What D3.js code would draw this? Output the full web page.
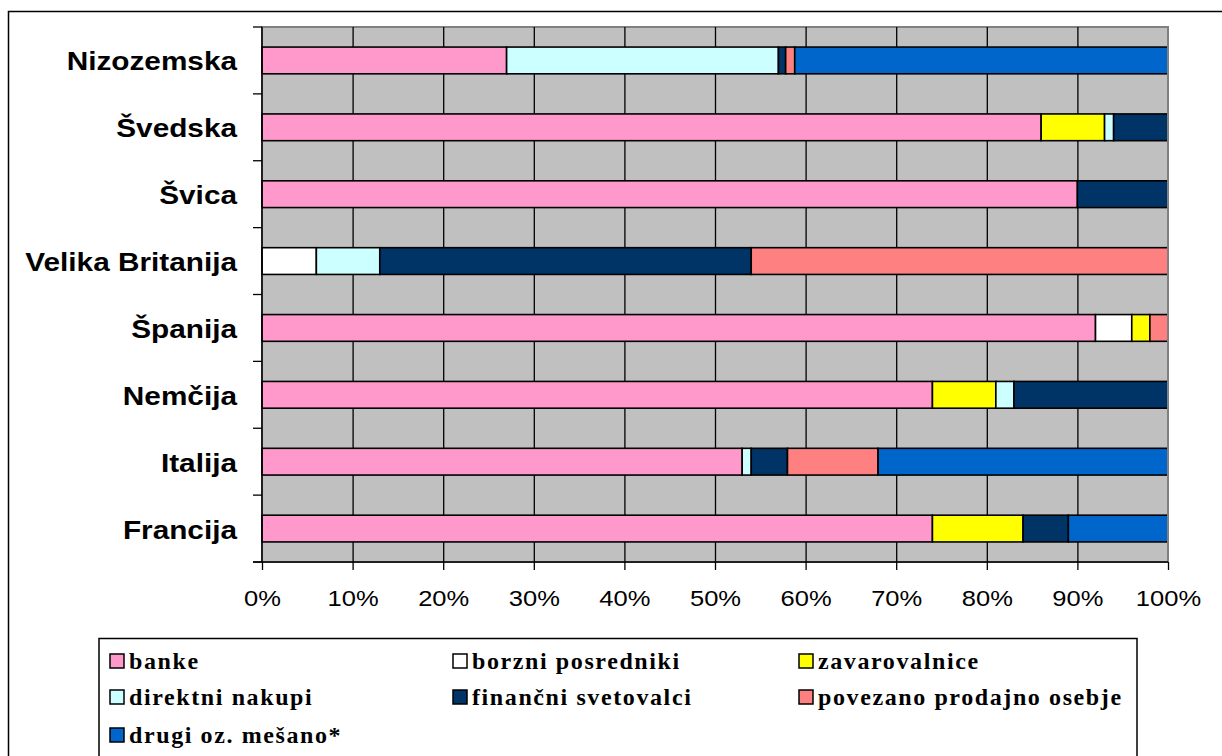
<!DOCTYPE html>
<html>
<head>
<meta charset="utf-8">
<script src="https://cdn.jsdelivr.net/npm/d3@7"></script>
<style>
  body { margin: 0; background: #fff; }
  svg { display: block; }
</style>
</head>
<body>
<svg id="chart" width="1222" height="756"></svg>
<script>
// countries, top to bottom
const countries = ["Nizozemska", "Švedska", "Švica", "Velika Britanija", "Španija", "Nemčija", "Italija", "Francija"];

const seriesNames = ["banke", "borzni posredniki", "zavarovalnice", "direktni nakupi",
                     "finančni svetovalci", "povezano prodajno osebje", "drugi oz. mešano*"];
const seriesColors = ["#FF99CC", "#FFFFFF", "#FFFF00", "#CCFFFF", "#003366", "#FF8080", "#0066CC"];

// percentages per country, same order as countries
const banke      = [27, 86, 90, 0, 92, 74, 53, 74];
const borzni     = [0, 0, 0, 6, 4, 0, 0, 0];
const zavarov    = [0, 7, 0, 0, 2, 7, 0, 10];
const direktni   = [30, 1, 0, 7, 0, 2, 1, 0];
const financni   = [0.8, 6, 10, 41, 0, 17, 4, 5];
const povezano   = [1, 0, 0, 46, 2, 0, 10, 0];
const drugi      = [41.2, 0, 0, 0, 0, 0, 32, 11];

const xTicks = [0, 10, 20, 30, 40, 50, 60, 70, 80, 90, 100];

const seriesValues = [banke, borzni, zavarov, direktni, financni, povezano, drugi];
const table = countries.map((c, i) => {
  const row = { country: c };
  seriesNames.forEach((s, j) => row[s] = seriesValues[j][i]);
  return row;
});

const svg = d3.select("#chart");

// outer chart border (runs off the picture right and bottom)
svg.append("rect")
  .attr("x", 8.5).attr("y", 11.5).attr("width", 1240).attr("height", 780)
  .attr("fill", "#fff").attr("stroke", "#000").attr("stroke-width", 1.5);

const plotL = 262, plotR = 1168, plotT = 27, plotB = 562;

const x = d3.scaleLinear().domain([0, 100]).range([plotL, plotR]);
const y = d3.scaleBand().domain(countries).range([plotT, plotB]).paddingInner(0.6).paddingOuter(0.3);

// plot background
svg.append("rect")
  .attr("x", plotL).attr("y", plotT).attr("width", plotR - plotL).attr("height", plotB - plotT)
  .attr("fill", "#C0C0C0").attr("stroke", "#808080").attr("stroke-width", 2);

// vertical gridlines
svg.append("g")
  .attr("transform", `translate(0,${plotB})`)
  .call(d3.axisBottom(x).tickValues(xTicks.slice(1, -1)).tickSize(-(plotB - plotT)).tickFormat(""))
  .call(g => g.select(".domain").remove())
  .call(g => g.selectAll("line").attr("stroke", "#000").attr("stroke-width", 1.3));

// stacked bars
const stack = d3.stack().keys(seriesNames)(table);
svg.append("g").selectAll("g")
  .data(stack)
  .join("g")
  .attr("fill", (d, i) => seriesColors[i])
  .selectAll("rect")
  .data(d => d.filter(p => p[1] - p[0] > 0))
  .join("rect")
  .attr("x", d => x(d[0]))
  .attr("y", d => y(d.data.country))
  .attr("width", d => x(d[1]) - x(d[0]))
  .attr("height", y.bandwidth())
  .attr("stroke", "#000")
  .attr("stroke-width", 1.6);

// right border of plot over bars
svg.append("line").attr("x1", plotR).attr("x2", plotR).attr("y1", plotT).attr("y2", plotB)
  .attr("stroke", "#808080").attr("stroke-width", 2);

// x axis
const xAxis = svg.append("g")
  .attr("transform", `translate(0,${plotB})`)
  .call(d3.axisBottom(x).tickValues(xTicks).tickSize(8).tickPadding(20).tickFormat(d => d + "%"));
xAxis.select(".domain").attr("stroke", "#000").attr("stroke-width", 1.5).attr("d", `M${plotL - 9},0H${plotR}`);
xAxis.selectAll("line").attr("stroke", "#000").attr("stroke-width", 1.3);
xAxis.selectAll("text")
  .attr("font-family", "Arial, 'Liberation Sans', sans-serif")
  .attr("font-size", 22).attr("fill", "#000")
  .each(function () {
    const w = this.getComputedTextLength();
    d3.select(this).attr("textLength", w * 1.16).attr("lengthAdjust", "spacingAndGlyphs");
  });

// y axis: boundary ticks between categories
const boundaries = d3.range(countries.length + 1).map(i => plotT + i * y.step());
svg.append("line").attr("x1", plotL).attr("x2", plotL).attr("y1", plotT).attr("y2", plotB)
  .attr("stroke", "#000").attr("stroke-width", 1.5);
svg.append("g").selectAll("line")
  .data(boundaries)
  .join("line")
  .attr("x1", plotL - 9).attr("x2", plotL)
  .attr("y1", d => d).attr("y2", d => d)
  .attr("stroke", "#000").attr("stroke-width", 1.3);

svg.append("g").selectAll("text")
  .data(countries)
  .join("text")
  .attr("x", 237)
  .attr("y", d => y(d) + y.bandwidth() / 2 + 1)
  .attr("dy", "0.36em")
  .attr("text-anchor", "end")
  .attr("font-family", "Arial, 'Liberation Sans', sans-serif")
  .attr("font-weight", "bold")
  .attr("font-size", 25)
  .text(d => d)
  .each(function () {
    const w = this.getComputedTextLength();
    d3.select(this).attr("textLength", w * 1.19).attr("lengthAdjust", "spacingAndGlyphs");
  });

// legend
svg.append("rect")
  .attr("x", 99).attr("y", 638.5).attr("width", 1038).attr("height", 140)
  .attr("fill", "#fff").attr("stroke", "#000").attr("stroke-width", 1.5);

const colX = [110, 453, 799];
const rowY = [661, 697, 735];
const legend = svg.append("g").selectAll("g")
  .data(seriesNames)
  .join("g")
  .attr("transform", (d, i) => `translate(${colX[i % 3]},${rowY[Math.floor(i / 3)]})`);
legend.append("rect")
  .attr("x", 0).attr("y", -7).attr("width", 14).attr("height", 14)
  .attr("fill", (d, i) => seriesColors[i])
  .attr("stroke", "#000").attr("stroke-width", 1.5);
legend.append("text")
  .attr("x", 19).attr("dy", "0.33em")
  .attr("font-family", "'Liberation Serif', 'Times New Roman', serif")
  .attr("font-weight", "bold")
  .attr("font-size", 24)
  .attr("letter-spacing", 1.6)
  .text(d => d);
</script>
</body>
</html>
